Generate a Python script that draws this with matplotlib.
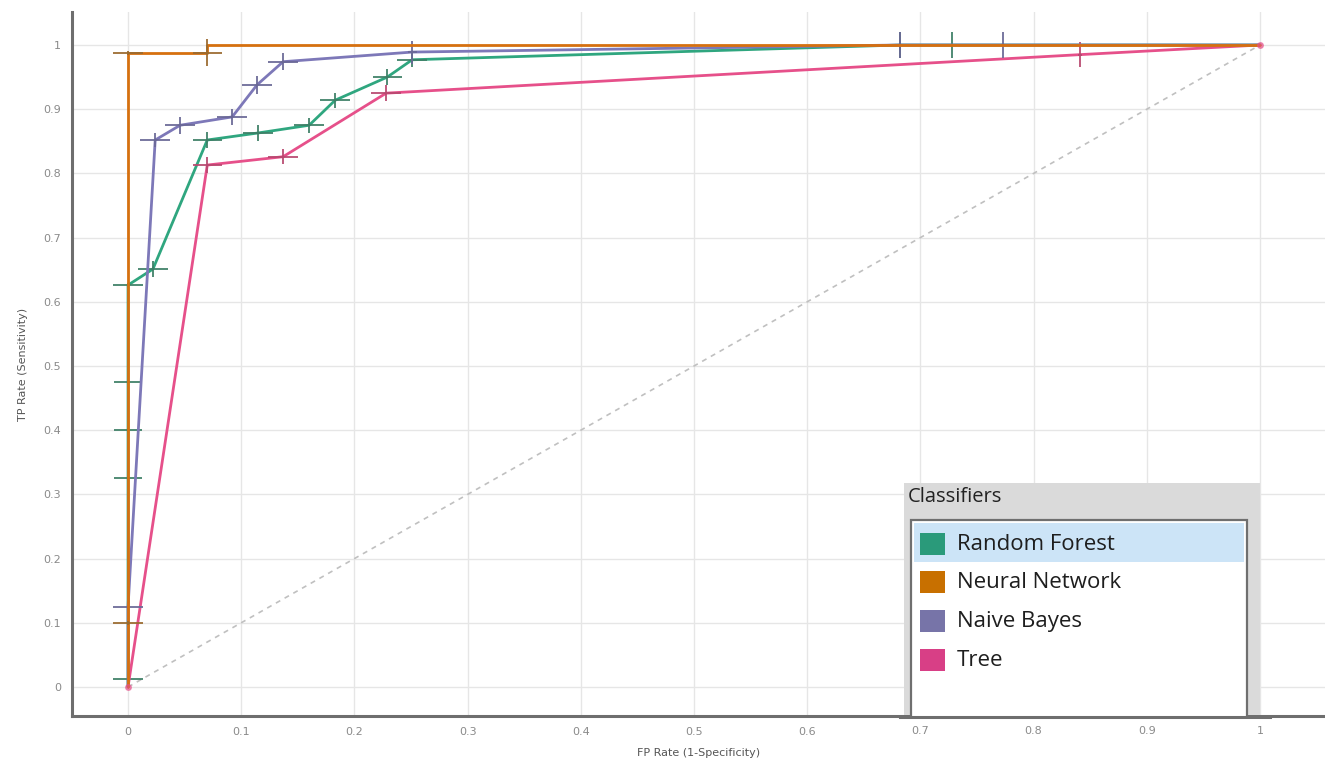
import matplotlib
matplotlib.use("Agg")
import matplotlib.pyplot as plt
from matplotlib.patches import Rectangle

# ---------------- data ----------------
classifiers = ["Random Forest", "Neural Network", "Naive Bayes", "Tree"]
line_colors = ["#2fa67f", "#d6700f", "#7d78b8", "#e6508a"]
bar_colors = ["#3d7f66", "#9a6a2e", "#6a6896", "#b8486f"]
legend_colors = ["#2a9a7a", "#c87000", "#7774a8", "#d83f86"]

rf_fpr = [0.0, 0.0, 0.0, 0.0, 0.0, 0.0, 0.022, 0.070, 0.115, 0.160, 0.183, 0.229, 0.251, 0.682, 0.728, 1.0]
rf_tpr = [0.0, 0.012, 0.325, 0.400, 0.475, 0.626, 0.651, 0.852, 0.863, 0.875, 0.914, 0.950, 0.977, 1.0, 1.0, 1.0]
rf_xerr = [0, 0.013, 0.012, 0.012, 0.012, 0.013, 0.013, 0.013, 0.013, 0.013, 0.013, 0.013, 0.013, 0.002, 0.002, 0]
rf_yerr = [0, 0.003, 0.003, 0.003, 0.003, 0.003, 0.012, 0.012, 0.012, 0.012, 0.012, 0.012, 0.012, 0.020, 0.020, 0]

nn_fpr = [0.0, 0.0, 0.0, 0.070, 0.070, 1.0]
nn_tpr = [0.0, 0.100, 0.988, 0.988, 1.0, 1.0]
nn_xerr = [0, 0.013, 0.013, 0.013, 0.0, 0]
nn_yerr = [0, 0.003, 0.003, 0.021, 0.0, 0]

nb_fpr = [0.0, 0.0, 0.024, 0.046, 0.092, 0.114, 0.137, 0.251, 0.682, 0.773, 1.0]
nb_tpr = [0.0, 0.125, 0.852, 0.875, 0.888, 0.938, 0.974, 0.989, 1.0, 1.0, 1.0]
nb_xerr = [0, 0.013, 0.013, 0.013, 0.013, 0.013, 0.013, 0.004, 0.002, 0.002, 0]
nb_yerr = [0, 0.003, 0.011, 0.013, 0.012, 0.014, 0.013, 0.018, 0.020, 0.020, 0]

tree_fpr = [0.0, 0.070, 0.137, 0.228, 0.841, 1.0]
tree_tpr = [0.0, 0.813, 0.826, 0.925, 0.985, 1.0]
tree_xerr = [0, 0.013, 0.013, 0.013, 0.002, 0]
tree_yerr = [0, 0.012, 0.012, 0.012, 0.020, 0]

diag_x = [0.0, 1.0]
diag_y = [0.0, 1.0]

x_ticks = [0, 0.1, 0.2, 0.3, 0.4, 0.5, 0.6, 0.7, 0.8, 0.9, 1]
x_labels = ["0", "0.1", "0.2", "0.3", "0.4", "0.5", "0.6", "0.7", "0.8", "0.9", "1"]
y_ticks = [0, 0.1, 0.2, 0.3, 0.4, 0.5, 0.6, 0.7, 0.8, 0.9, 1]
y_labels = ["0", "0.1", "0.2", "0.3", "0.4", "0.5", "0.6", "0.7", "0.8", "0.9", "1"]

# ---------------- figure ----------------
W, H = 1325, 762
fig = plt.figure(figsize=(W / 100, H / 100), dpi=100)
fig.patch.set_facecolor("white")

ax_left, ax_right, ax_top, ax_bottom = 72, 1325, 12, 716
ax = fig.add_axes([ax_left / W, 1 - ax_bottom / H, (ax_right - ax_left) / W, (ax_bottom - ax_top) / H])
ax.set_xlim(-0.0495, 1.0574)
ax.set_ylim(-0.0452, 1.0514)

for s in ["top", "right"]:
    ax.spines[s].set_visible(False)
for s in ["left", "bottom"]:
    ax.spines[s].set_color("#6e6e6e")
    ax.spines[s].set_linewidth(2.2)

ax.set_xticks(x_ticks)
ax.set_xticklabels(x_labels)
ax.set_yticks(y_ticks)
ax.set_yticklabels(y_labels)
ax.tick_params(length=0, labelsize=8, labelcolor="#8a8a8a", pad=8)
ax.grid(True, color="#e6e6e6", linewidth=1.0)
ax.set_axisbelow(True)

ax.set_xlabel("FP Rate (1-Specificity)", fontsize=8, color="#555555", labelpad=8)
ax.set_ylabel("TP Rate (Sensitivity)", fontsize=8, color="#555555", labelpad=11)

ax.plot(diag_x, diag_y, color="#c0c0c0", linestyle=(0, (3, 3)), linewidth=1.2, zorder=2)

series = [
    (rf_fpr, rf_tpr, rf_xerr, rf_yerr),
    (nn_fpr, nn_tpr, nn_xerr, nn_yerr),
    (nb_fpr, nb_tpr, nb_xerr, nb_yerr),
    (tree_fpr, tree_tpr, tree_xerr, tree_yerr),
]
zorders = [3, 4, 3.5, 3.2]
for (fx, ty, xe, ye), lc, bc, z in zip(series, line_colors, bar_colors, zorders):
    ax.plot(fx, ty, color=lc, linewidth=2.0, zorder=z, solid_capstyle="round")
    ax.errorbar(fx, ty, xerr=xe, yerr=ye, fmt="none", ecolor=bc, elinewidth=1.4,
                capsize=0, zorder=z + 0.05, alpha=0.9)

ax.plot([0, 1], [0, 1], linestyle="none", marker="o", markersize=4,
        color="#e6508a", alpha=0.6, zorder=5)

# ---------------- legend panel (figure coords in px) ----------------
def px_rect(x0, y0, x1, y1, **kw):
    r = Rectangle((x0 / W, 1 - y1 / H), (x1 - x0) / W, (y1 - y0) / H,
                  transform=fig.transFigure, **kw)
    fig.patches.append(r)
    return r

px_rect(904, 483, 1260, 715, facecolor="#dadada", edgecolor="none", zorder=10)
px_rect(911, 520, 1247, 740, facecolor="white", edgecolor="#6f6f6f", linewidth=1.6, zorder=11)
px_rect(914, 523, 1244, 562, facecolor="#cce4f7", edgecolor="none", zorder=12)
# re-cover the bottom below panel
px_rect(900, 716, 1270, 762, facecolor="white", edgecolor="none", zorder=13)

fig.text(908 / W, 1 - 497 / H, "Classifiers", fontsize=14.5, color="#222222",
         family="Open Sans", va="center", ha="left", zorder=14)

item_y = [544, 582, 621, 660]
for name, c, yc in zip(classifiers, legend_colors, item_y):
    px_rect(920, yc - 11, 945, yc + 11, facecolor=c, edgecolor="none", zorder=14)
    fig.text(957 / W, 1 - yc / H, name, fontsize=16, color="#1e1e1e",
             family="Open Sans", va="center", ha="left", zorder=15)

# tick labels below panel need to remain visible: redraw them over the cover
for xv, lab in zip(x_ticks, x_labels):
    if xv >= 0.7:
        xp = 128 + xv * 1132
        fig.text(xp / W, 1 - 731 / H, lab, fontsize=8, color="#8a8a8a",
                 ha="center", va="center", zorder=16)
# bottom spine segment under the panel
fig.add_artist(plt.Line2D([900 / W, 1270 / W], [1 - 717 / H, 1 - 717 / H],
                          transform=fig.transFigure, color="#6e6e6e", linewidth=2.2, zorder=16))

fig.savefig("out.png", dpi=100)
